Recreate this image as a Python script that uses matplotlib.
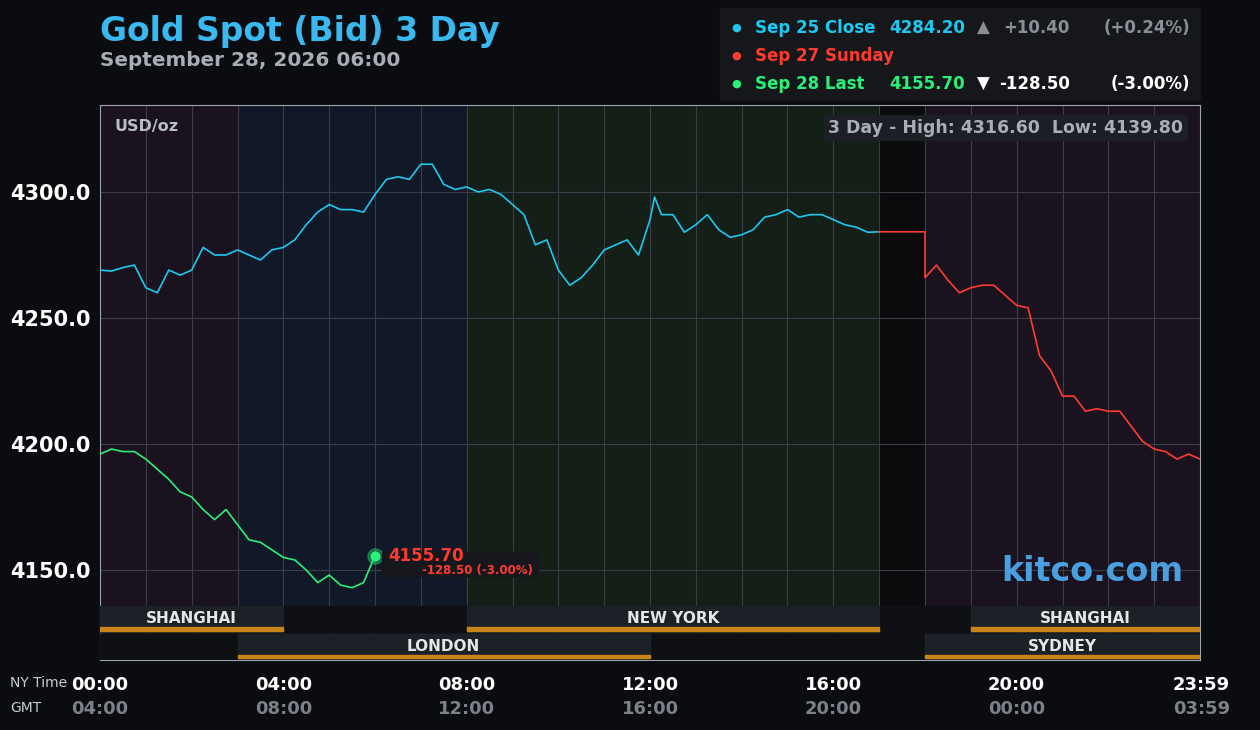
import matplotlib
matplotlib.use("Agg")
import matplotlib.pyplot as plt
from matplotlib.patches import Rectangle

# hours (NY time) and prices
blue_hours = [0, 0.25, 0.5, 0.75, 1.0, 1.25, 1.5, 1.75, 2.0, 2.25, 2.5, 2.75, 3.0, 3.25, 3.5, 3.75,
              4.0, 4.25, 4.5, 4.75, 5.0, 5.25, 5.5, 5.75, 6.0, 6.25, 6.5, 6.75, 7.0, 7.25, 7.5, 7.75,
              8.0, 8.25, 8.5, 8.75, 9.0, 9.25, 9.5, 9.75, 10.0, 10.25, 10.5, 10.75, 11.0, 11.25, 11.5,
              11.75, 12.0, 12.1, 12.25, 12.5, 12.75, 13.0, 13.25, 13.5, 13.75, 14.0, 14.25, 14.5, 14.75,
              15.0, 15.25, 15.5, 15.75, 16.0, 16.25, 16.5, 16.75, 17.0]
blue_prices = [4269, 4268.6, 4270, 4271, 4262, 4260, 4269, 4267, 4269, 4278, 4275, 4275, 4277, 4275,
               4273, 4277, 4278, 4281, 4287, 4292, 4295, 4293, 4293, 4292, 4299, 4305, 4306, 4305,
               4311, 4311, 4303, 4301, 4302, 4300, 4301, 4299, 4295, 4291, 4279, 4281, 4269, 4263,
               4266, 4271, 4277, 4279, 4281, 4275, 4289, 4298, 4291, 4291, 4284, 4287, 4291, 4285,
               4282, 4283, 4285, 4290, 4291, 4293, 4290, 4291, 4291, 4289, 4287, 4286, 4284, 4284.2]

red_hours = [17.0, 18.0, 18.0, 18.25, 18.5, 18.75, 19.0, 19.25, 19.5, 19.75, 20.0, 20.25, 20.5, 20.75,
             21.0, 21.25, 21.5, 21.75, 22.0, 22.25, 22.5, 22.75, 23.0, 23.25, 23.5, 23.75, 24.0]
red_prices = [4284.2, 4284.2, 4266, 4271, 4265, 4260, 4262, 4263, 4263, 4259, 4255, 4254, 4235, 4229,
              4219, 4219, 4213, 4214, 4213, 4213, 4207, 4201, 4198, 4197, 4194, 4196, 4194]

green_hours = [0, 0.25, 0.5, 0.75, 1.0, 1.25, 1.5, 1.75, 2.0, 2.25, 2.5, 2.75, 3.0, 3.25, 3.5, 3.75,
               4.0, 4.25, 4.5, 4.75, 5.0, 5.25, 5.5, 5.75, 6.0]
green_prices = [4196, 4198, 4197, 4197, 4194, 4190, 4186, 4181, 4179, 4174, 4170, 4174, 4168, 4162,
                4161, 4158, 4155, 4154, 4150, 4145, 4148, 4144, 4143, 4145, 4155.7]

y_ticks = [4150, 4200, 4250, 4300]
x_ticks = [0, 4, 8, 12, 16, 20, 23.983]
ny_labels = ["00:00", "04:00", "08:00", "12:00", "16:00", "20:00", "23:59"]
gmt_labels = ["04:00", "08:00", "12:00", "16:00", "20:00", "00:00", "03:59"]

# (start, end, color) backgrounds
regions = [(0, 3, "#1a131f"), (3, 8, "#111827"), (8, 17, "#141f18"), (17, 18, "#0b0b0d"), (18, 24, "#1a131f")]
sessions_top = [("SHANGHAI", 0, 4), ("NEW YORK", 8, 17), ("SHANGHAI", 19, 24)]
sessions_bot = [("LONDON", 3, 12), ("SYDNEY", 18, 24)]

BG = "#0b0c10"
fig = plt.figure(figsize=(12.6, 7.3), dpi=100, facecolor=BG)
ax = fig.add_axes([100 / 1260, 70 / 730, 1100 / 1260, 555 / 730])
ymin, ymax = 4114.3, 4334.5
ax.set_xlim(0, 24)
ax.set_ylim(ymin, ymax)
ax.set_facecolor(BG)

for s, e, c in regions:
    ax.axvspan(s, e, color=c, zorder=0)
for h in range(1, 24):
    ax.axvline(h, color="#3a3d45", lw=0.8, zorder=1)
for v in y_ticks:
    ax.axhline(v, color="#3a3d45", lw=0.8, zorder=1)

ax.plot(blue_hours, blue_prices, color="#1ec8f0", lw=1.2, zorder=3)
ax.plot(red_hours, red_prices, color="#ff3b30", lw=1.2, zorder=3)
ax.plot(green_hours, green_prices, color="#2af07a", lw=1.2, zorder=3)
ax.scatter([green_hours[-1]], [green_prices[-1]], s=120, color="#2af07a", alpha=0.35, zorder=4)
ax.scatter([green_hours[-1]], [green_prices[-1]], s=40, color="#2af07a", zorder=5)

# last price label
ax.add_patch(Rectangle((6.15, 4147.5), 3.4, 9.8, color="#15171c", zorder=4))
ax.text(6.3, 4155.7, "4155.70", color="#ff3b30", fontsize=12, fontweight="bold", va="center", zorder=6)
ax.text(9.45, 4149.8, "-128.50 (-3.00%)", color="#ff3b30", fontsize=8.5, fontweight="bold",
        ha="right", va="center", zorder=6)

# session bars
def session_row(items, y0, y1):
    ax.add_patch(Rectangle((0, y0), 24, y1 - y0, color="#0f1014", zorder=5))
    for name, s, e in items:
        ax.add_patch(Rectangle((s, y0), e - s, y1 - y0, color="#1c2027", zorder=6))
        ax.add_patch(Rectangle((s, y0 + 0.6), e - s, 1.2, color="#c8861a", zorder=7))
        ax.text((s + e) / 2, y0 + 5.2, name, color="#e6e6e6", fontsize=11, fontweight="bold",
                ha="center", va="center", zorder=8)

session_row(sessions_top, 4125.4, 4135.7)
session_row(sessions_bot, 4114.3, 4124.8)

ax.text(0.013, 0.975, "USD/oz", transform=ax.transAxes, color="#b8bcc6", fontsize=11.5,
        fontweight="bold", va="top")
ax.text(0.985, 0.975, "3 Day - High: 4316.60  Low: 4139.80", transform=ax.transAxes, color="#a9adb6",
        fontsize=12.5, fontweight="bold", va="top", ha="right",
        bbox=dict(boxstyle="square,pad=0.25", fc="#1c1f25", ec="none"))
ax.text(0.985, 0.16, "kitco.com", transform=ax.transAxes, color="#4a9fe0", fontsize=24,
        fontweight="bold", ha="right", va="center")

ax.set_yticks(y_ticks)
ax.set_yticklabels([f"{v:.1f}" for v in y_ticks], color="white", fontsize=15, fontweight="bold")
ax.tick_params(axis="y", length=0, pad=7)
ax.set_xticks([])
for sp in ax.spines.values():
    sp.set_color("#9ea3b0")
    sp.set_linewidth(0.8)

# x labels
for x, a, b in zip(x_ticks, ny_labels, gmt_labels):
    ha = "right" if x > 23 else "center"
    xx = 24.65 if x > 23 else x
    ax.text(xx, -0.045, a, transform=ax.get_xaxis_transform(), color="white", fontsize=13,
            fontweight="bold", ha=ha, va="center")
    ax.text(xx, -0.088, b, transform=ax.get_xaxis_transform(), color="#7d8088", fontsize=13,
            fontweight="bold", ha=ha, va="center")
fig.text(10 / 1260, 1 - 683 / 730, "NY Time", color="#c8ccd4", fontsize=10, va="center")
fig.text(10 / 1260, 1 - 708 / 730, "GMT", color="#c8ccd4", fontsize=10, va="center")

# titles
fig.text(100 / 1260, 1 - 31 / 730, "Gold Spot (Bid) 3 Day", color="#3ab8f0", fontsize=23.8,
         fontweight="bold", va="center")
fig.text(100 / 1260, 1 - 60 / 730, "September 28, 2026 06:00", color="#a9adb6", fontsize=14.4,
         fontweight="bold", va="center")

# legend box
fig.patches.append(Rectangle((720 / 1260, 1 - 100 / 730), 480 / 1260, 92 / 730,
                             transform=fig.transFigure, color="#15171b", zorder=0))
rows = [
    (28, "#1ec8f0", "Sep 25 Close", "4284.20", "#1ec8f0", "▲", "+10.40", "(+0.24%)", "#8a8e96"),
    (56, "#ff3b30", "Sep 27 Sunday", "", "#ff3b30", "", "", "", "#8a8e96"),
    (84, "#2af07a", "Sep 28 Last", "4155.70", "#2af07a", "▼", "-128.50", "(-3.00%)", "white"),
]
for y, c, lab, val, vc, arrow, chg, pct, cc in rows:
    yy = 1 - y / 730
    fig.text(736 / 1260, yy, "●", color=c, fontsize=8, va="center", ha="center")
    fig.text(755 / 1260, yy, lab, color=c, fontsize=12, fontweight="bold", va="center")
    if val:
        fig.text(965 / 1260, yy, val, color=vc, fontsize=12, fontweight="bold", va="center", ha="right")
        fig.text(983 / 1260, yy, arrow, color=cc, fontsize=12, va="center", ha="center")
        fig.text(1070 / 1260, yy, chg, color=cc, fontsize=12, fontweight="bold", va="center", ha="right")
        fig.text(1190 / 1260, yy, pct, color=cc, fontsize=12, fontweight="bold", va="center", ha="right")

fig.savefig("out.png", dpi=100, facecolor=BG)
